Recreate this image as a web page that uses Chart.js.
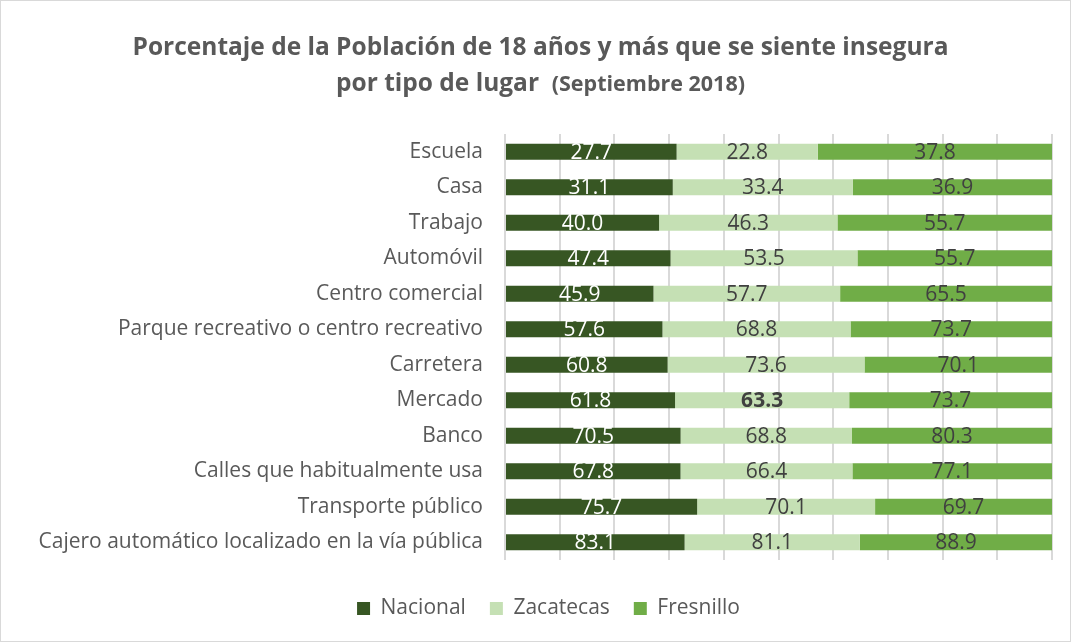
<!DOCTYPE html>
<html lang="es">
<head>
  <meta charset="UTF-8">
  <title>Porcentaje de la Población de 18 años y más que se siente insegura</title>
  <style>
    body{ margin:0; background:#fff; }
    .wrap{ width:1071px; height:642px; position:relative; box-sizing:border-box; border:1px solid #d9d9d9; }
  </style>
</head>
<body>
  <div class="wrap">
    <canvas id="chart"></canvas>
  </div>
  <script src="https://cdn.jsdelivr.net/npm/chart.js"></script>
  <script>
    // lugares (de arriba hacia abajo)
    const lugares = [
      'Escuela', 'Casa', 'Trabajo', 'Automóvil', 'Centro comercial',
      'Parque recreativo o centro recreativo', 'Carretera', 'Mercado', 'Banco',
      'Calles que habitualmente usa', 'Transporte público',
      'Cajero automático localizado en la vía pública'
    ]
    const nacional  = [27.7, 31.1, 40.0, 47.4, 45.9, 57.6, 60.8, 61.8, 70.5, 67.8, 75.7, 83.1]
    const zacatecas = [22.8, 33.4, 46.3, 53.5, 57.7, 68.8, 73.6, 63.3, 68.8, 66.4, 70.1, 81.1]
    const fresnillo = [37.8, 36.9, 55.7, 55.7, 65.5, 73.7, 70.1, 73.7, 80.3, 77.1, 69.7, 88.9]

    const FONT = "'Open Sans', sans-serif"

    // barras 100% apiladas: cada fila se reparte sobre el total de la fila
    const totales = lugares.map((_, i) => nacional[i] + zacatecas[i] + fresnillo[i])
    const share = arr => arr.map((v, i) => v / totales[i] * 100)

    // titulo con dos tamaños de letra
    const titlePlugin = {
      id: 'titulo',
      afterLayout(chart){
        // la leyenda del original esta un poco a la derecha del centro
        chart.legend.left += 22
        chart.legend.right += 22
      },
      afterDraw(chart){
        const ctx = chart.ctx
        const cx = chart.width / 2 + 5
        ctx.save()
        ctx.fillStyle = '#595959'
        ctx.textBaseline = 'middle'
        ctx.textAlign = 'center'
        ctx.font = `bold 24.5px ${FONT}`
        ctx.fillText('Porcentaje de la Población de 18 años y más que se siente insegura', cx, 47)
        const a = 'por tipo de lugar  '
        const b = '(Septiembre 2018)'
        const wa = ctx.measureText(a).width
        ctx.font = `bold 21.5px ${FONT}`
        const wb = ctx.measureText(b).width
        const x0 = cx - (wa + wb) / 2
        ctx.textAlign = 'left'
        ctx.font = `bold 24.5px ${FONT}`
        ctx.fillText(a, x0, 83)
        ctx.font = `bold 21.5px ${FONT}`
        ctx.fillText(b, x0 + wa, 84)
        ctx.restore()
      }
    }

    // etiquetas con el valor original en el centro de cada segmento
    const valuePlugin = {
      id: 'valores',
      afterDatasetsDraw(chart){
        const ctx = chart.ctx
        ctx.save()
        ctx.textAlign = 'center'
        ctx.textBaseline = 'middle'
        chart.data.datasets.forEach((ds, di) => {
          chart.getDatasetMeta(di).data.forEach((bar, i) => {
            const p = bar.getCenterPoint()
            const bold = ds.boldIndex === i
            ctx.font = `${bold ? 'bold ' : ''}21px ${FONT}`
            ctx.fillStyle = ds.labelColor
            ctx.fillText(ds.raw[i].toFixed(1), p.x, p.y + 1)
          })
        })
        ctx.restore()
      }
    }

    new Chart(document.getElementById('chart'), {
      type: 'bar',
      data: {
        labels: lugares,
        datasets: [
          { label: 'Nacional', data: share(nacional), raw: nacional, backgroundColor: '#375623', labelColor: '#ffffff' },
          { label: 'Zacatecas', data: share(zacatecas), raw: zacatecas, backgroundColor: '#c5e0b4', labelColor: '#404040', boldIndex: 7 },
          { label: 'Fresnillo', data: share(fresnillo), raw: fresnillo, backgroundColor: '#70ad47', labelColor: '#404040' }
        ]
      },
      options: {
        indexAxis: 'y',
        responsive: true,
        maintainAspectRatio: false,
        animation: false,
        barPercentage: 0.9,
        categoryPercentage: 0.5,
        layout: { padding: { top: 133, right: 18, bottom: 12, left: 0 } },
        scales: {
          x: {
            stacked: true, min: 0, max: 100,
            afterFit(s){ s.height = 14 },
            ticks: { display: false, stepSize: 10 },
            grid: { color: '#d9d9d9', lineWidth: 2, drawTicks: false },
            border: { display: false }
          },
          y: {
            stacked: true,
            afterFit(s){ s.width = 504 },
            ticks: { color: '#595959', font: { family: FONT, size: 21 }, padding: 14 },
            grid: { display: false },
            border: { display: false }
          }
        },
        plugins: {
          legend: {
            position: 'bottom',
            labels: { color: '#595959', font: { family: FONT, size: 21 }, boxWidth: 13, boxHeight: 13, padding: 24 }
          },
          tooltip: { enabled: false }
        }
      },
      plugins: [titlePlugin, valuePlugin]
    })
  </script>
</body>
</html>
